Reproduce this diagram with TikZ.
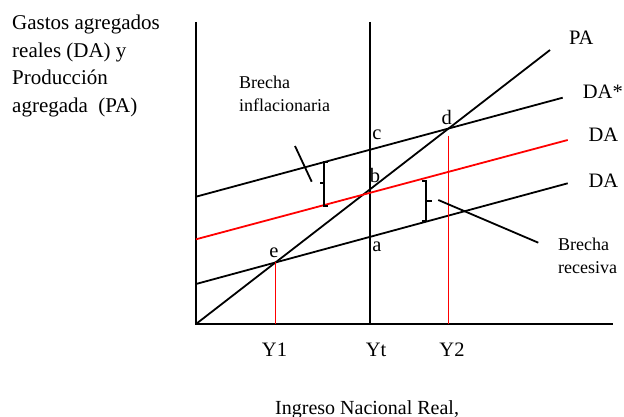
\documentclass[tikz,border=0pt]{standalone}
\usepackage{fontspec}
\setmainfont{Liberation Serif}
\usetikzlibrary{intersections}
\tikzset{
  curva/.style={line width=1.8pt},
  guia/.style={red, line width=1.8pt},
  llave/.style={line width=1.7pt},
  etiq/.style={font=\fontsize{20.5}{24}\selectfont, inner sep=0pt},
  texto/.style={font=\fontsize{18}{23.5}\selectfont, align=left, inner sep=0pt, anchor=north west},
}
\begin{document}
\begin{tikzpicture}[x=1pt,y=-1pt]
\useasboundingbox (0,0) rectangle (624,417);
% Ejes
\coordinate (O) at (196,324); \coordinate (ytop) at (196,22); \coordinate (xend) at (613,324);
\draw[curva] (ytop) -- (O) -- (xend);
% Ingreso de pleno empleo Yt
\coordinate (yt) at (370,324); \coordinate (yttop) at (370,22);
\draw[curva] (yttop) -- (yt);
% PA (45 grados) y las tres DA
\coordinate (pafin) at (550,50);
\draw[curva, name path=PA] (O) -- (pafin);
\coordinate (dasi) at (196,196.7); \coordinate (dasf) at (562.7,97.7);
\draw[curva, name path=DAs] (dasi) -- (dasf);
\coordinate (dari) at (196,239.3); \coordinate (darf) at (567.7,140);
\draw[guia] (dari) -- (darf);
\coordinate (dabi) at (196,284); \coordinate (dabf) at (567.7,183.3);
\draw[curva, name path=DAb] (dabi) -- (dabf);
% Equilibrios e y d
\path[name intersections={of=PA and DAb, by=e}];
\path[name intersections={of=PA and DAs, by=d}];
\coordinate (y1) at (e |- O); \coordinate (y2) at (d |- O);
\coordinate (dbajo) at ([yshift=-7pt]d);
\draw[guia] (e) -- (y1);
\draw[guia] (dbajo) -- (y2);
% Brecha inflacionaria
\draw[llave] (328,161.7) -- (324.3,161.7) -- (324.3,206) -- (328,206);
\draw[llave] (324.3,183.3) -- (319.5,183.3);
\coordinate (bi1) at (295,146); \coordinate (bi2) at (311.7,181.7);
\draw[curva] (bi1) -- (bi2);
% Brecha recesiva
\draw[llave] (421.7,180.7) -- (426,180.7) -- (426,221) -- (421.7,221);
\draw[llave] (426,200.7) -- (431.7,200.7);
\coordinate (br1) at (438.3,200); \coordinate (br2) at (538.3,242.7);
\draw[curva] (br1) -- (br2);
% Puntos
\node[etiq] (la) at (377,247) {a};
\node[etiq] (lb) at (375,175) {b};
\node[etiq] (lc) at (377,135) {c};
\node[etiq] (ld) at (446.7,117) {d};
\node[etiq] (le) at (274,252.7) {e};
% Curvas
\node[etiq, anchor=west] (lpa) at (569,37.7) {PA};
\node[etiq, anchor=west] (ldas) at (582.7,91.7) {DA*};
\node[etiq, anchor=west] (ldar) at (588.3,135) {DA};
\node[etiq, anchor=west] (ldab) at (588.3,180.7) {DA};
% Ingresos
\node[etiq, anchor=base] (ly1) at (274.5,356.7) {Y1};
\node[etiq, anchor=base] (lyt) at (376,356.7) {Yt};
\node[etiq, anchor=base] (ly2) at (452,356.7) {Y2};
% Textos
\node[texto] (tinf) at (239,75.7) {Brecha\\inflacionaria};
\node[texto] (trec) at (558,237.7) {Brecha\\recesiva};
\node[texto, font=\fontsize{21}{27.7}\selectfont] (teje) at (12,14.7) {Gastos agregados\\reales (DA) y\\Producción\\agregada~ (PA)};
\node[etiq, font=\fontsize{20}{24}\selectfont, anchor=base west] (tx) at (275,414) {Ingreso Nacional Real,};
\end{tikzpicture}
\end{document}
